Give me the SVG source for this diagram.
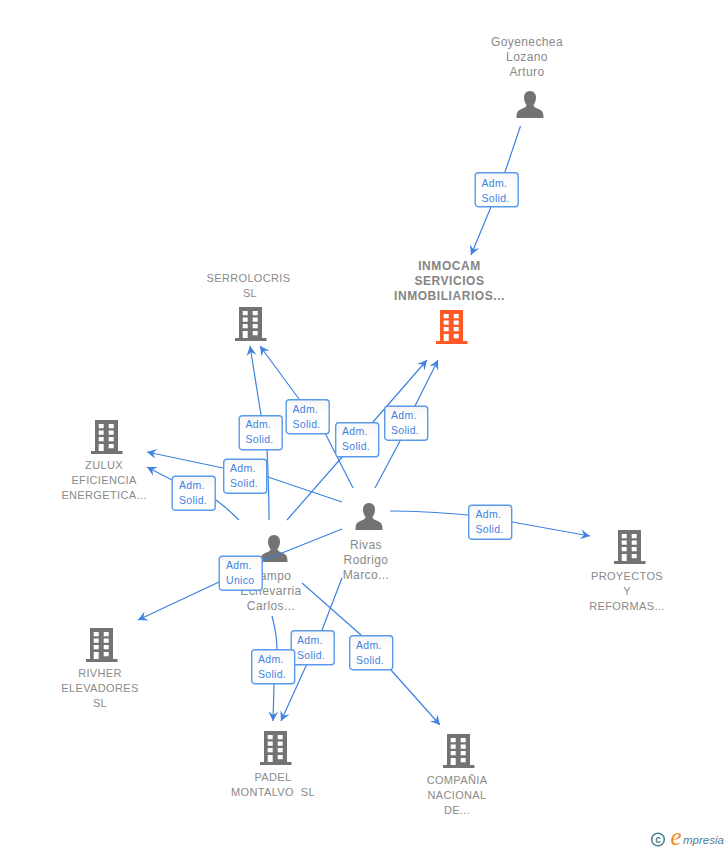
<svg xmlns="http://www.w3.org/2000/svg" width="728" height="850" viewBox="0 0 728 850">
<style>
text{font-family:"Liberation Sans",Arial,sans-serif}
.co{font-size:11px;letter-spacing:.35px;fill:#8a8a8a;text-anchor:middle;white-space:pre}
.pe{font-size:12px;letter-spacing:.4px;fill:#8a8a8a;text-anchor:middle}
.main{font-size:12px;font-weight:bold;fill:#858585;letter-spacing:.55px}
.ln{fill:none;stroke:#3f82e0;stroke-width:1.2}
.arr{marker-end:url(#a)}
.box{fill:url(#g);stroke:#5a9aea;stroke-width:1.4}
.bt{font-size:10.5px;letter-spacing:.3px;fill:#3f82e0}
.b{fill:#737373}
.o{fill:#ff5a26}
.w{fill:#fff}
</style>
<defs>
<linearGradient id="g" x1="0" y1="0" x2="0" y2="1"><stop offset="0" stop-color="#f6f6f6"/><stop offset=".4" stop-color="#fff"/></linearGradient>
<marker id="a" markerUnits="userSpaceOnUse" markerWidth="14" markerHeight="14" refX="9.500" refY="6" orient="auto"><path d="M9.500 6L0 1L3.500 6L0 11Z" fill="#3f82e0"/></marker>
<g id="bld"><path d="M-12 0H11V31H15.500V34H-16V31H-12Z"/><path class="w" d="M-8.300 4h5v4.300h-5zM1.700 4h5v4.300h-5zM-8.300 10.500h5v4.300h-5zM1.700 10.500h5v4.300h-5zM-8.300 17h5v4.300h-5zM1.700 17h5v4.300h-5zM-8.300 24h5v7h-5zM1.700 24h5v4.300h-5z"/></g>
<g id="per"><path d="M0 0C4 0 6 3 6 6.500C6 10 4.500 12.500 3.500 14C3.500 16 5.500 16.500 8.500 18C12 19.500 13.500 20.500 13.500 27H-13.500C-13.500 20.500 -12 19.500 -8.500 18C-5.500 16.500 -3.500 16 -3.500 14C-4.500 12.500 -6 10 -6 6.500C-6 3 -4 0 0 0Z"/></g>
<g id="lb"><rect class="box" x=".7" y=".7" width="43" height="34" rx="3"/></g>
</defs>

<g id="n-goyenechea"><text class="pe" x="527" y="46">Goyenechea</text><text class="pe" x="527" y="61">Lozano</text><text class="pe" x="527" y="76">Arturo</text><use href="#per" class="b" x="530" y="91"/></g>
<g id="n-inmocam"><text class="co main" x="449.500" y="270">INMOCAM</text><text class="co main" x="449.500" y="285">SERVICIOS</text><text class="co main" x="449.500" y="300">INMOBILIARIOS...</text><use href="#bld" class="o" x="452" y="310"/></g>
<g id="n-serrolocris"><text class="co" x="248.500" y="282">SERROLOCRIS</text><text class="co" x="250" y="297">SL</text><use href="#bld" class="b" x="251" y="307"/></g>
<g id="n-zulux"><use href="#bld" class="b" x="107" y="420"/><text class="co" x="104" y="469">ZULUX</text><text class="co" x="104" y="484">EFICIENCIA</text><text class="co" x="104" y="499">ENERGETICA...</text></g>
<g id="n-campo"><use href="#per" class="b" x="274" y="535"/><text class="pe" x="271" y="580">Campo</text><text class="pe" x="271" y="595">Echevarria</text><text class="pe" x="271" y="610">Carlos...</text></g>
<g id="n-rivas"><use href="#per" class="b" x="369" y="503"/><text class="pe" x="366" y="549">Rivas</text><text class="pe" x="366" y="564">Rodrigo</text><text class="pe" x="366" y="579">Marco...</text></g>
<g id="n-proyectos"><use href="#bld" class="b" x="630" y="530"/><text class="co" x="627" y="580">PROYECTOS</text><text class="co" x="627" y="595">Y</text><text class="co" x="627" y="610">REFORMAS...</text></g>
<g id="n-rivher"><use href="#bld" class="b" x="102" y="628"/><text class="co" x="100" y="677">RIVHER</text><text class="co" x="100" y="692">ELEVADORES</text><text class="co" x="100" y="707">SL</text></g>
<g id="n-padel"><use href="#bld" class="b" x="276" y="731"/><text class="co" x="273" y="781">PADEL</text><text class="co" x="273" y="796">MONTALVO  SL</text></g>
<g id="n-compania"><use href="#bld" class="b" x="459" y="734"/><text class="co" x="457" y="784">COMPAÑIA</text><text class="co" x="457" y="799">NACIONAL</text><text class="co" x="457" y="814">DE...</text></g>

<g id="connectors">
<path class="ln arr" d="M520.500 126L505 172L491 207L471 255"/>
<path class="ln arr" d="M375 488L400 441L415 406L438 360"/>
<path class="ln arr" d="M287 520L343 456L373 422L427 360"/>
<path class="ln arr" d="M353 488L325 433L299 399L260 346"/>
<path class="ln arr" d="M269 520C269 495 268 470 267 449L261 415L250 346"/>
<path class="ln arr" d="M342 502L268 477L223 468L147 452"/>
<path class="ln arr" d="M239 520C232 513 224 506 216 500L172 480L147 467"/>
<path class="ln arr" d="M342 529L262 561L219 582L138 620"/>
<path class="ln arr" d="M390 511C420 511 445 513 468 515L512 522L590 536"/>
<path class="ln arr" d="M342 578L322 630L306 666L281 721"/>
<path class="ln arr" d="M272 616C275 627 277 638 277 650L274 684L273 721"/>
<path class="ln arr" d="M302 583L361 635L391 670L440 725"/>
</g>

<g id="labels">
<g><use href="#lb" x="474.500" y="172"/><text class="bt" x="481.500" y="187">Adm.</text><text class="bt" x="481.500" y="202">Solid.</text></g>
<g><use href="#lb" x="238.500" y="415"/><text class="bt" x="245.500" y="428">Adm.</text><text class="bt" x="245.500" y="443">Solid.</text></g>
<g><use href="#lb" x="285.500" y="399"/><text class="bt" x="292.500" y="413">Adm.</text><text class="bt" x="292.500" y="428">Solid.</text></g>
<g><use href="#lb" x="335" y="422"/><text class="bt" x="342" y="435">Adm.</text><text class="bt" x="342" y="450">Solid.</text></g>
<g><use href="#lb" x="384" y="405.500"/><text class="bt" x="391" y="419">Adm.</text><text class="bt" x="391" y="434">Solid.</text></g>
<g><use href="#lb" x="223" y="458.500"/><text class="bt" x="230" y="472">Adm.</text><text class="bt" x="230" y="487">Solid.</text></g>
<g><use href="#lb" x="171.500" y="475.500"/><text class="bt" x="179" y="489">Adm.</text><text class="bt" x="179" y="504">Solid.</text></g>
<g><use href="#lb" x="218.500" y="555.500"/><text class="bt" x="226" y="569">Adm.</text><text class="bt" x="226" y="584">Unico</text></g>
<g><use href="#lb" x="468" y="504.500"/><text class="bt" x="475.500" y="518">Adm.</text><text class="bt" x="475.500" y="533">Solid.</text></g>
<g><use href="#lb" x="290.500" y="630"/><text class="bt" x="297" y="644">Adm.</text><text class="bt" x="297" y="659">Solid.</text></g>
<g><use href="#lb" x="251" y="649"/><text class="bt" x="258" y="663">Adm.</text><text class="bt" x="258" y="678">Solid.</text></g>
<g><use href="#lb" x="349" y="635"/><text class="bt" x="356" y="649">Adm.</text><text class="bt" x="356" y="664">Solid.</text></g>
</g>

<g id="logo"><circle cx="658" cy="839.500" r="6.300" fill="none" stroke="#4d7f96" stroke-width="1.600"/><text x="658" y="843" font-size="10" font-weight="bold" fill="#4d7f96" text-anchor="middle">c</text><text x="670.500" y="845" font-size="25" font-style="italic" fill="#f28a1e" style="font-family:'Liberation Serif',serif">e</text><text x="683" y="844" font-size="11.500" font-style="italic" fill="#4d7f96">mpresia</text></g>
</svg>
